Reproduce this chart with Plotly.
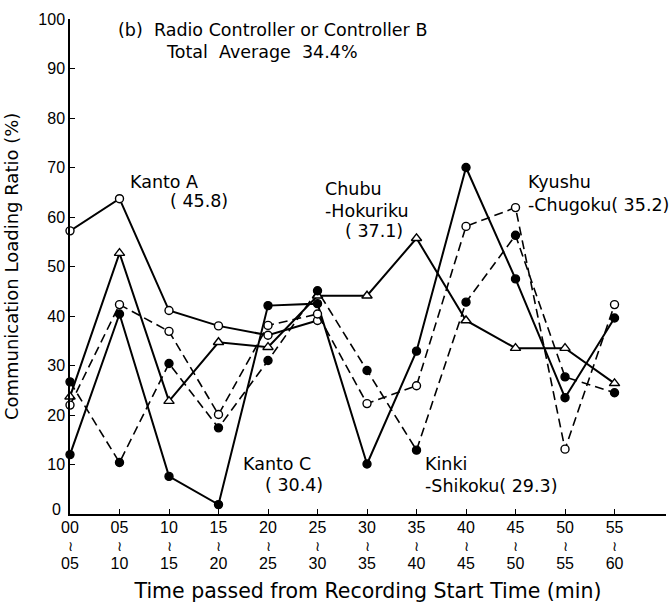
import plotly.graph_objects as go

# Start of each 5-minute interval (min)
times = [0, 5, 10, 15, 20, 25, 30, 35, 40, 45, 50, 55]
tick_labels = [
    f"<span style='font-size:16px'>{t:02d}</span><br>≀<br>"
    f"<span style='font-size:16px'>{t + 5:02d}</span>"
    for t in times
]
y_ticks = list(range(10, 101, 10))

# Communication loading ratio (%) per region
kanto_a = [57.2, 63.7, 41.1, 38.0, 36.1, 39.1]
kanto_c = [12.0, 40.4, 7.6, 1.9, 42.1, 42.5, 10.1, 32.9, 70.0, 47.5, 23.5, 39.6]
chubu_hokuriku = [23.7, 52.7, 22.8, 34.7, 33.7, 44.1, 44.1, 55.7, 39.1, 33.5, 33.5, 26.4]
kyushu_chugoku = [22.0, 42.3, 36.9, 20.1, 38.1, 40.4, 22.3, 25.9, 58.1, 61.9, 13.1, 42.3]
kinki_shikoku = [26.7, 10.4, 30.4, 17.4, 31.0, 45.1, 29.0, 12.9, 42.8, 56.3, 27.7, 24.5]

TEXT_FONT = dict(family="DejaVu Sans", size=17.5, color="black")
TICK_FONT = dict(family="Liberation Sans", size=16, color="black")

fig = go.Figure()


def add_series(name, y, dash, symbol, filled):
    fig.add_trace(go.Scatter(
        x=times[:len(y)], y=y, name=name, mode="lines+markers",
        line=dict(color="black", width=2 if dash == "solid" else 1.6, dash=dash),
        marker=dict(symbol=symbol, size=8 if symbol == "circle" else 9,
                    color="black" if filled else "white",
                    line=dict(color="black", width=1.4)),
        cliponaxis=False,
    ))


dashed = "9px,5px"
add_series("Kanto A", kanto_a, "solid", "circle", False)
add_series("Kanto C", kanto_c, "solid", "circle", True)
add_series("Chubu-Hokuriku", chubu_hokuriku, "solid", "triangle-up", False)
add_series("Kyushu-Chugoku", kyushu_chugoku, dashed, "circle", False)
add_series("Kinki-Shikoku", kinki_shikoku, dashed, "circle", True)

# Region labels with their averages
labels = [
    (5.9, 67.0, "Kanto A"),
    (9.9, 63.2, "( 45.8)"),
    (25.6, 65.6, "Chubu"),
    (25.6, 61.2, "-Hokuriku"),
    (27.6, 57.1, "( 37.1)"),
    (17.3, 10.1, "Kanto C"),
    (19.5, 5.8, "( 30.4)"),
    (35.7, 10.1, "Kinki"),
    (35.7, 5.6, "-Shikoku( 29.3)"),
    (46.1, 67.0, "Kyushu"),
    (46.1, 62.4, "-Chugoku( 35.2)"),
]
for x, y, text in labels:
    fig.add_annotation(x=x, y=y, text=text, showarrow=False, xanchor="left",
                       yanchor="middle", font=TEXT_FONT)

fig.add_annotation(x=4.6, y=97.8, text="(b)  Radio Controller or Controller B",
                   showarrow=False, xanchor="left", yanchor="middle", font=TEXT_FONT)
fig.add_annotation(x=9.5, y=93.4, text="Total  Average  34.4%",
                   showarrow=False, xanchor="left", yanchor="middle", font=TEXT_FONT)

# Origin label, raised a little so it clears the first interval label
fig.add_annotation(xref="paper", x=-0.012, y=0, text="0", showarrow=False,
                   xanchor="right", yanchor="middle", yshift=5, font=TICK_FONT)

# Vertical axis title
fig.add_annotation(xref="paper", yref="paper", x=-0.098, y=0.5,
                   text="Communication Loading Ratio (%)", textangle=-90,
                   showarrow=False, xanchor="center", yanchor="middle",
                   font=dict(family="DejaVu Sans", size=18, color="black"))

fig.update_layout(
    width=669, height=603,
    margin=dict(l=70, r=3, t=19, b=87),
    paper_bgcolor="white", plot_bgcolor="white",
    showlegend=False,
    xaxis=dict(
        range=[0, 60.2], tickvals=times, ticktext=tick_labels,
        ticks="inside", ticklen=5, tickcolor="black", tickwidth=1,
        showline=True, linecolor="black", linewidth=1.5,
        showgrid=False, zeroline=False,
        tickfont=dict(family="Liberation Sans", size=14, color="black"),
        title=dict(text="Time passed from Recording Start Time (min)",
                   font=dict(family="DejaVu Sans", size=20.5, color="black"),
                   standoff=14),
    ),
    yaxis=dict(
        range=[0, 100], tickvals=y_ticks,
        ticks="inside", ticklen=5, tickcolor="black", tickwidth=1,
        showline=True, linecolor="black", linewidth=1.5,
        showgrid=False, zeroline=False, tickfont=TICK_FONT,
    ),
)

fig.write_html("out.html")
